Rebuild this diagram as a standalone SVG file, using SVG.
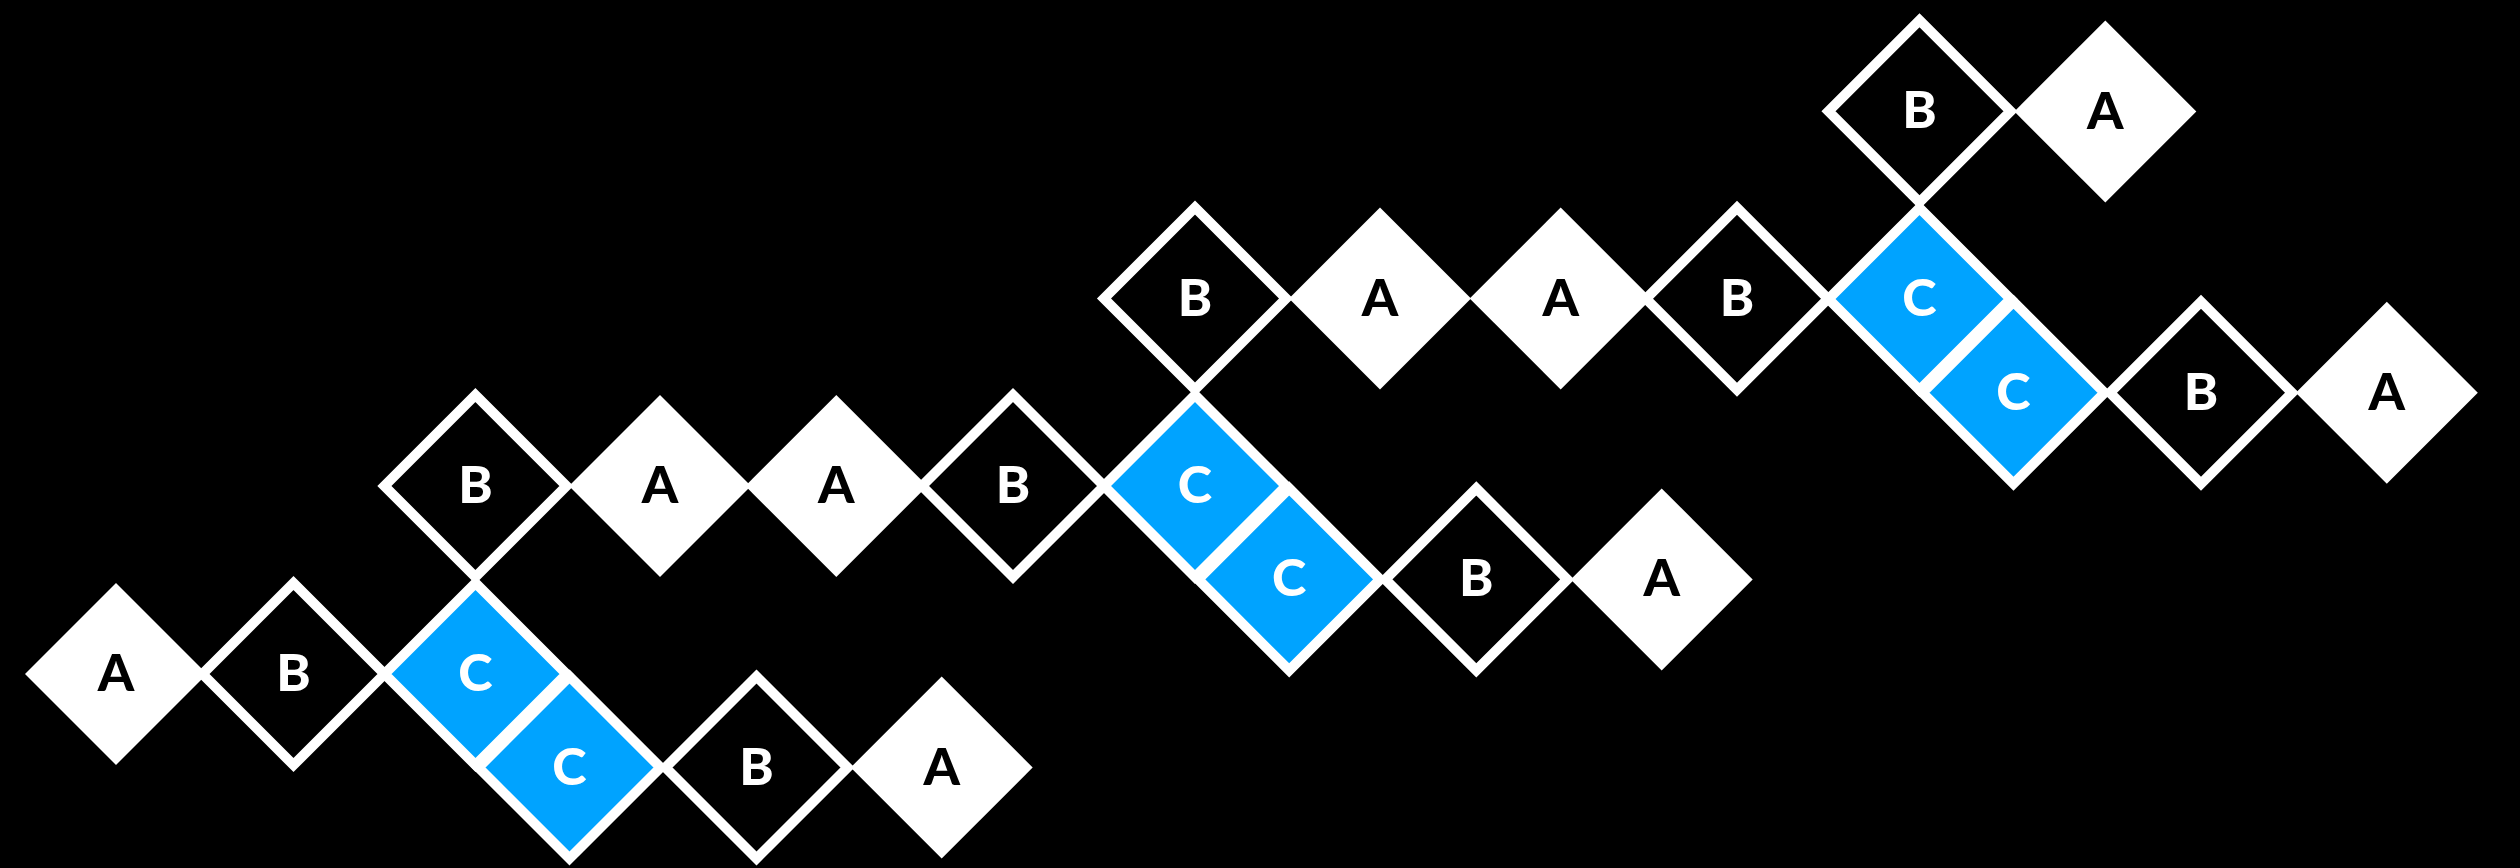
<svg xmlns="http://www.w3.org/2000/svg" xmlns:xlink="http://www.w3.org/1999/xlink" width="2520" height="868" viewBox="0 0 2520 868">
<defs>
<style>
.a{fill:#ffffff;stroke:none}
.b{fill:#000000;stroke:#ffffff;stroke-width:10}
.c{fill:#00a3ff;stroke:#ffffff;stroke-width:10}
text{font-family:Lato,"Open Sans","DejaVu Sans",sans-serif;font-weight:900;font-size:52px;text-anchor:middle}
.ta{fill:#000000}
.tb,.tc{fill:#ffffff}
</style>
<path id="d" d="M0,-91 L91,0 L0,91 L-91,0 Z"/>
</defs>
<rect x="0" y="0" width="2520" height="868" fill="#000000"/>
<g id="nodes">
<g id="g1-a1"><use xlink:href="#d" href="#d" class="a" x="116" y="674"/><text class="ta" x="116" y="691">A</text></g>
<g id="g1-b1"><use xlink:href="#d" href="#d" class="b" x="293.5" y="674"/><text class="tb" x="293.5" y="691">B</text></g>
<g id="g1-c1"><use xlink:href="#d" href="#d" class="c" x="475.5" y="674"/><text class="tc" x="475.5" y="691">C</text></g>
<g id="g1-c2"><use xlink:href="#d" href="#d" class="c" x="569.5" y="767.5"/><text class="tc" x="569.5" y="784.5">C</text></g>
<g id="g1-b2"><use xlink:href="#d" href="#d" class="b" x="756.5" y="767.5"/><text class="tb" x="756.5" y="784.5">B</text></g>
<g id="g1-a2"><use xlink:href="#d" href="#d" class="a" x="941.7" y="767.5"/><text class="ta" x="941.7" y="784.5">A</text></g>

<g id="g2-b1"><use xlink:href="#d" href="#d" class="b" x="475.4" y="486"/><text class="tb" x="475.4" y="503">B</text></g>
<g id="g2-a1"><use xlink:href="#d" href="#d" class="a" x="660" y="486"/><text class="ta" x="660" y="503">A</text></g>
<g id="g2-a2"><use xlink:href="#d" href="#d" class="a" x="836.3" y="486"/><text class="ta" x="836.3" y="503">A</text></g>
<g id="g2-b2"><use xlink:href="#d" href="#d" class="b" x="1013" y="486"/><text class="tb" x="1013" y="503">B</text></g>
<g id="g2-c1"><use xlink:href="#d" href="#d" class="c" x="1195" y="486"/><text class="tc" x="1195" y="503">C</text></g>
<g id="g2-c2"><use xlink:href="#d" href="#d" class="c" x="1289.2" y="579.4"/><text class="tc" x="1289.2" y="596.4">C</text></g>
<g id="g2-b3"><use xlink:href="#d" href="#d" class="b" x="1476.3" y="579.4"/><text class="tb" x="1476.3" y="596.4">B</text></g>
<g id="g2-a3"><use xlink:href="#d" href="#d" class="a" x="1661.7" y="579.4"/><text class="ta" x="1661.7" y="596.4">A</text></g>

<g id="g3-b1"><use xlink:href="#d" href="#d" class="b" x="1195" y="298.5"/><text class="tb" x="1195" y="315.5">B</text></g>
<g id="g3-a1"><use xlink:href="#d" href="#d" class="a" x="1380" y="298.5"/><text class="ta" x="1380" y="315.5">A</text></g>
<g id="g3-a2"><use xlink:href="#d" href="#d" class="a" x="1560.7" y="298.5"/><text class="ta" x="1560.7" y="315.5">A</text></g>
<g id="g3-b2"><use xlink:href="#d" href="#d" class="b" x="1737" y="298.8"/><text class="tb" x="1737" y="315.8">B</text></g>
<g id="g3-c1"><use xlink:href="#d" href="#d" class="c" x="1919.5" y="299"/><text class="tc" x="1919.5" y="316">C</text></g>
<g id="g3-c2"><use xlink:href="#d" href="#d" class="c" x="2013.5" y="392.8"/><text class="tc" x="2013.5" y="409.8">C</text></g>
<g id="g3-b3"><use xlink:href="#d" href="#d" class="b" x="2201" y="392.8"/><text class="tb" x="2201" y="409.8">B</text></g>
<g id="g3-a3"><use xlink:href="#d" href="#d" class="a" x="2386.8" y="392.8"/><text class="ta" x="2386.8" y="409.8">A</text></g>

<g id="g4-b1"><use xlink:href="#d" href="#d" class="b" x="1919.5" y="111.2"/><text class="tb" x="1919.5" y="128.2">B</text></g>
<g id="g4-a1"><use xlink:href="#d" href="#d" class="a" x="2105.3" y="111.5"/><text class="ta" x="2105.3" y="128.5">A</text></g>
</g>
</svg>
